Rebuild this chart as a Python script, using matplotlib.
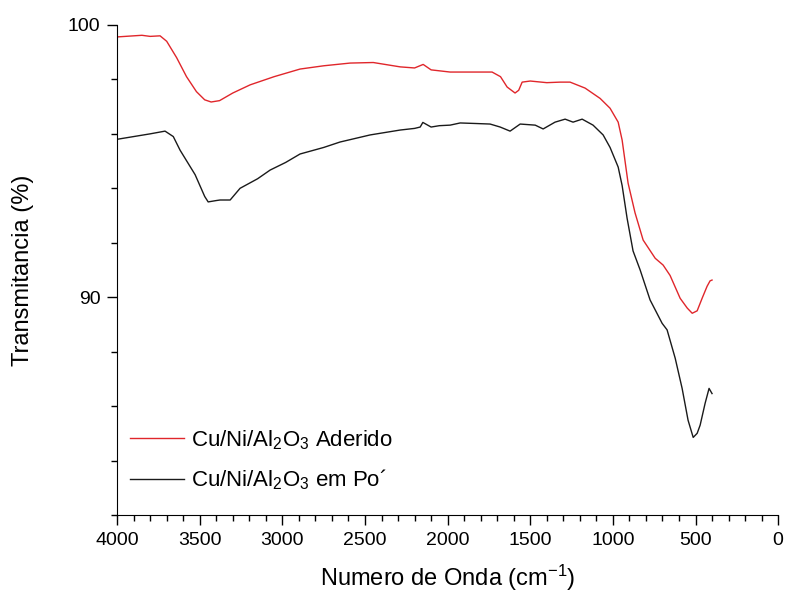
import matplotlib.pyplot as plt
from matplotlib.ticker import MultipleLocator

plt.rcParams['font.family'] = ['Liberation Sans', 'DejaVu Sans']
plt.rcParams['mathtext.fontset'] = 'custom'
plt.rcParams['mathtext.rm'] = 'Liberation Sans'
plt.rcParams['mathtext.default'] = 'regular'

# FTIR spectra (wavenumber cm-1, transmittance %)
wn_aderido = [4000, 3900, 3850, 3800, 3740, 3700, 3640, 3580, 3520, 3470, 3431, 3380,
              3300, 3195, 3050, 2893, 2750, 2590, 2450, 2287, 2200, 2148, 2100, 1985,
              1850, 1731, 1680, 1640, 1592, 1570, 1549, 1500, 1400, 1319, 1259, 1168,
              1077, 1017, 968, 944, 908, 866, 817, 744, 696, 654, 593, 550, 520, 490,
              460, 430, 412, 400]
tr_aderido = [99.56, 99.6, 99.62, 99.58, 99.6, 99.4, 98.8, 98.1, 97.55, 97.25, 97.17, 97.22,
              97.5, 97.8, 98.1, 98.38, 98.5, 98.6, 98.62, 98.46, 98.42, 98.55, 98.35, 98.27,
              98.27, 98.27, 98.1, 97.72, 97.5, 97.6, 97.9, 97.94, 97.88, 97.9, 97.9, 97.68,
              97.3, 96.94, 96.43, 95.77, 94.19, 93.1, 92.1, 91.43, 91.18, 90.8, 89.96, 89.6, 89.41, 89.5,
              89.96, 90.4, 90.6, 90.63]

wn_po = [4000, 3900, 3800, 3710, 3660, 3619, 3528, 3470, 3449, 3400, 3377, 3316,
         3256, 3150, 3074, 2980, 2893, 2750, 2651, 2469, 2287, 2200, 2166, 2150,
         2100, 2050, 1985, 1924, 1830, 1743, 1682, 1622, 1561, 1470, 1422, 1350,
         1289, 1241, 1186, 1120, 1059, 1017, 968, 944, 914, 878, 835, 775, 702,
         672, 623, 581, 545, 514, 490, 472, 442, 418, 400]
tr_po = [95.8, 95.9, 96.0, 96.1, 95.9, 95.4, 94.5, 93.7, 93.5, 93.55, 93.57, 93.57,
         94.0, 94.35, 94.67, 94.95, 95.26, 95.5, 95.7, 95.96, 96.14, 96.2, 96.25, 96.42,
         96.25, 96.3, 96.32, 96.4, 96.38, 96.36, 96.25, 96.1, 96.36, 96.32, 96.18, 96.43,
         96.54, 96.43, 96.54, 96.32, 95.96, 95.5, 94.78, 94.1, 92.9, 91.7, 91.0, 89.9, 89.04,
         88.8, 87.76, 86.65, 85.48, 84.85, 85.0, 85.3, 86.1, 86.65, 86.46]

fig = plt.figure(figsize=(7.86, 5.94), dpi=100)
ax = fig.add_axes([0.149, 0.133, 0.841, 0.825])

ax.plot(wn_aderido, tr_aderido, color='#e0262b', linewidth=1.0,
        label='Cu/Ni/Al$_2$O$_3$ Aderido')
ax.plot(wn_po, tr_po, color='#1a1a1a', linewidth=1.0,
        label='Cu/Ni/Al$_2$O$_3$ em Po\u00b4')

ax.set_xlim(4000, 0)
ax.set_ylim(82, 100)
ax.xaxis.set_major_locator(MultipleLocator(500))
ax.xaxis.set_minor_locator(MultipleLocator(100))
ax.set_yticks([90, 100])
ax.yaxis.set_minor_locator(MultipleLocator(2))
ax.tick_params(which='major', direction='out', length=7, width=1, labelsize=14, pad=5)
ax.tick_params(which='minor', direction='out', length=4, width=1)

ax.spines['top'].set_visible(False)
ax.spines['right'].set_visible(False)

ax.set_xlabel('Numero de Onda (cm$^{-1}$)', fontsize=17, labelpad=10)
ax.set_ylabel('Transmitancia (%)', fontsize=17, labelpad=24)

ax.legend(loc='upper left', bbox_to_anchor=(0.02, 0.177), frameon=False,
          borderpad=0, borderaxespad=0,
          fontsize=16, handlelength=2.4, handletextpad=0.35, labelspacing=0.7)

fig.savefig('out.png', dpi=100)
